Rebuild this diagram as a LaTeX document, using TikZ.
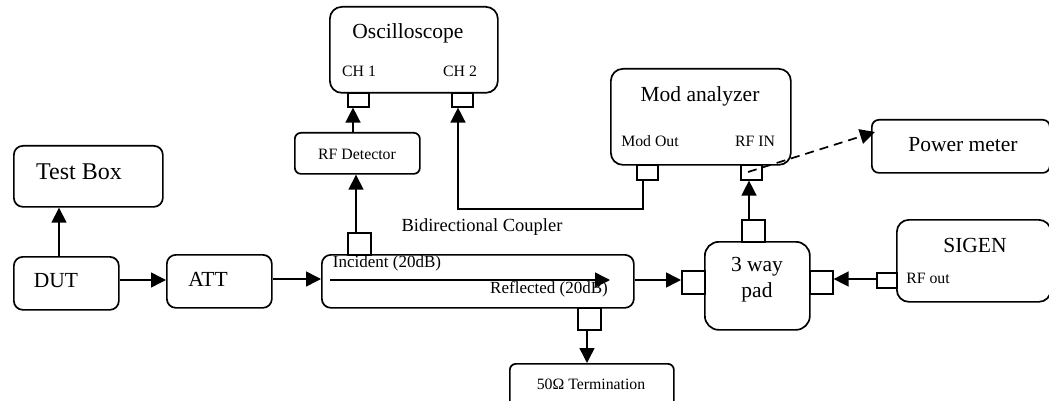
\documentclass[tikz,border=0pt]{standalone}
\usepackage{fontspec}
\setmainfont{Liberation Serif}
\usetikzlibrary{arrows.meta,calc}
\tikzset{
  rbox/.style={draw,line width=1.7pt,rounded corners=#1,anchor=north west,inner sep=0pt},
  rbox/.default=9pt,
  port/.style={draw,line width=1.6pt,anchor=north west,inner sep=0pt},
  conn/.style={line width=1.5pt,-{Triangle[length=15pt,width=15pt]}},
  huge/.style={font=\fontsize{24}{26}\selectfont,inner sep=0pt},
  big/.style={font=\fontsize{21.5}{26}\selectfont,inner sep=0pt},
  med/.style={font=\fontsize{17}{20}\selectfont,inner sep=0pt},
  small/.style={font=\fontsize{15.8}{18}\selectfont,inner sep=0pt},
}
\begin{document}
\begin{tikzpicture}[x=1pt,y=-1pt]
\useasboundingbox (0,0) rectangle (1049,401);
% main boxes
\node[rbox,minimum width=149pt,minimum height=61pt] (test) at (13,145) {};
\node[rbox,minimum width=105pt,minimum height=53pt] (dut) at (13,256) {};
\node[rbox,minimum width=105pt,minimum height=53pt] (att) at (166,254) {};
\node[rbox,minimum width=312pt,minimum height=53pt] (coup) at (321,254) {};
\node[rbox=12pt,minimum width=168pt,minimum height=86pt] (osc) at (329,6) {};
\node[rbox=6pt,minimum width=125pt,minimum height=41pt] (det) at (294,132) {};
\node[rbox=12pt,minimum width=180pt,minimum height=96pt] (mod) at (610,68) {};
\node[rbox=14pt,minimum width=105pt,minimum height=88pt] (pad) at (704,241) {};
\node[rbox=12pt,minimum width=154pt,minimum height=82pt] (sig) at (896,219) {};
\node[rbox=7pt,minimum width=178pt,minimum height=53pt] (pow) at (871,119) {};
\node[rbox=6pt,minimum width=164pt,minimum height=45pt] (term) at (509,363) {};
% ports
\node[port,minimum width=21pt,minimum height=14pt] (ch1) at (347,92) {};
\node[port,minimum width=21pt,minimum height=14pt] (ch2) at (451,92) {};
\node[port,minimum width=21pt,minimum height=15pt] (mout) at (636,164) {};
\node[port,minimum width=21pt,minimum height=15pt] (rfin) at (740,164) {};
\node[port,minimum width=23pt,minimum height=22pt] (cpt) at (347,232) {};
\node[port,minimum width=23pt,minimum height=22pt] (cpb) at (577,307) {};
\node[port,minimum width=23pt,minimum height=22pt] (padt) at (741,219) {};
\node[port,minimum width=23pt,minimum height=23pt] (padl) at (681,270) {};
\node[port,minimum width=23pt,minimum height=23pt] (padr) at (809,270) {};
\node[port,minimum width=20pt,minimum height=15pt] (rfout) at (876,272) {};
% named free ends
\coordinate (innerA) at (330,280);
\coordinate (innerB) at (610,280);
\coordinate (bend) at (643,209);
\coordinate (bendB) at (458,209);
\coordinate (dashA) at (748,172);
\coordinate (dashB) at (875,132);
% connectors
\draw[conn] (dut.north -| 59,0) -- (test.south -| 59,0);
\draw[conn] (dut.east |- 0,280) -- (att.west |- 0,280);
\draw[conn] (att.east |- 0,279) -- (coup.west |- 0,279);
\draw[conn] (coup.east |- 0,280) -- (padl.west |- 0,280);
\draw[conn] (rfout.west |- 0,279) -- (padr.east |- 0,279);
\draw[conn] (cpt.north -| 356,0) -- (det.south -| 356,0);
\draw[conn] (det.north -| 353,0) -- (ch1.south -| 353,0);
\draw[conn] (mout.south -| bend) -- (bend) -- (bendB) -- (ch2.south -| bendB);
\draw[conn] (padt.north -| 749,0) -- (rfin.south -| 749,0);
\draw[conn] (cpb.south -| 587,0) -- (term.north -| 587,0);
\draw[conn] (innerA) -- (innerB);
\draw[conn,line width=1.7pt,dash pattern=on 9pt off 6pt] (dashA) -- (dashB);
% labels
\node[huge] (lTest) at (79,172) {Test Box};
\node[big] (lDut) at (56,281) {DUT};
\node[big] (lAtt) at (208,279) {ATT};
\node[big] (lOsc) at (408,33) {Oscilloscope};
\node[small] (lCh1) at (359,71) {CH 1};
\node[small] (lCh2) at (460,71) {CH 2};
\node[small] (lDet) at (357,154) {RF Detector};
\node[big] (lMod) at (700,96) {Mod analyzer};
\node[small] (lMout) at (650,141) {Mod Out};
\node[small] (lRfin) at (755,141) {RF IN};
\node[big] (lPow) at (963,145) {Power meter};
\node[big] (lSig) at (975,245) {SIGEN};
\node[small] (lRfo) at (928,278) {RF out};
\node[big,align=center] (lPad) at (757,280) {3 way\\pad};
\node[inner sep=0pt,font=\fontsize{18.5}{20}\selectfont] (lBi) at (482,227) {Bidirectional Coupler};
\node[med] (lInc) at (387,263) {Incident (20dB)};
\node[med] (lRef) at (549,289) {Reflected (20dB)};
\node[small] (lTerm) at (591,384) {50Ω Termination};
\end{tikzpicture}
\end{document}
